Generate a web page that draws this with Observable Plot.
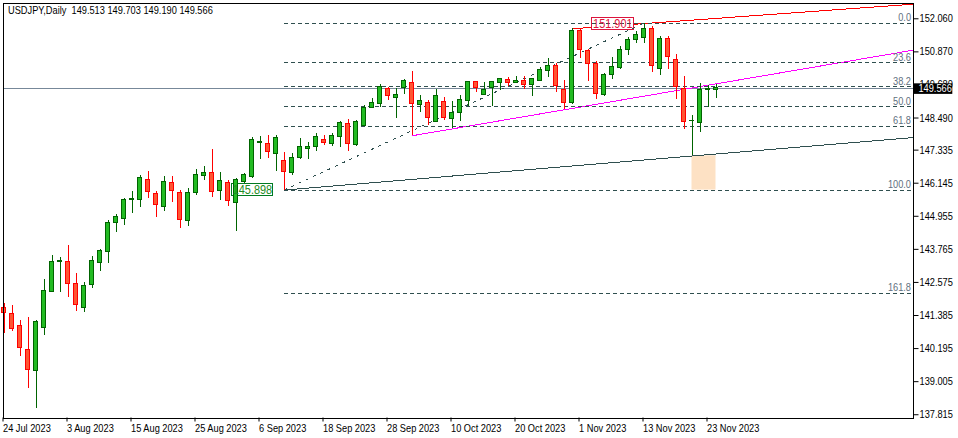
<!DOCTYPE html>
<html><head><meta charset="utf-8">
<style>html,body{margin:0;padding:0;background:#fff}svg{display:block}</style>
<script src="https://cdn.jsdelivr.net/npm/d3@7"></script>
<script src="https://cdn.jsdelivr.net/npm/@observablehq/plot@0.6"></script>
</head><body><div id="c"></div>
<script>
const opens=[141.66,141.45,141.02,140.15,139.40,140.95,142.23,143.32,143.32,142.53,141.66,142.49,143.28,143.68,144.72,144.87,145.55,145.55,146.27,145.77,145.30,146.16,145.80,144.79,145.80,146.41,146.52,145.87,146.16,145.43,146.18,146.38,147.60,147.56,147.20,146.95,146.51,147.05,147.38,147.46,147.71,147.55,147.82,148.28,147.53,148.21,148.86,149.00,149.54,149.22,149.58,149.76,148.95,149.04,148.36,149.07,148.46,148.68,149.11,149.79,149.33,149.58,149.76,149.87,149.76,149.83,149.69,149.83,150.19,150.37,149.51,149.04,151.63,150.91,150.44,149.33,150.05,150.30,150.95,151.30,151.38,151.70,150.26,151.34,150.59,149.54,148.37,148.32,149.50,149.513];
const highs=[141.81,141.75,141.21,141.32,141.21,142.68,143.55,143.47,143.91,142.90,142.57,143.51,143.76,144.81,145.02,145.60,145.85,146.42,146.57,145.84,146.39,146.39,145.88,145.96,146.64,146.75,147.36,146.53,146.24,146.32,146.51,147.78,147.83,147.86,147.86,147.24,147.20,147.74,147.62,147.93,147.85,147.92,148.37,148.43,148.39,148.93,149.18,149.69,149.60,149.54,149.88,150.16,149.30,149.12,149.52,149.22,149.07,149.29,149.80,149.82,149.76,149.82,149.91,149.94,149.98,149.98,149.91,150.30,150.63,150.44,149.84,151.70,151.70,150.95,150.51,150.08,150.67,151.05,151.38,151.59,151.901,151.78,151.41,151.41,150.78,149.98,148.57,149.72,149.66,149.703];
const lows=[140.75,140.82,139.92,138.76,138.05,140.68,142.20,142.23,142.05,141.54,141.51,142.37,142.98,143.27,144.38,144.64,145.07,145.28,145.61,144.92,145.14,145.46,144.53,144.60,145.70,146.24,145.64,145.52,145.31,144.42,146.13,146.33,147.00,147.02,146.58,145.898,146.43,147.00,147.00,147.29,147.51,147.47,147.44,147.29,147.48,148.18,148.82,148.86,149.12,148.48,149.35,147.85,148.70,148.23,148.32,148.41,148.10,148.38,148.92,149.42,149.29,148.92,149.47,149.61,149.72,149.53,149.28,149.79,149.94,149.42,148.79,148.97,150.64,149.82,149.15,149.27,149.89,150.25,150.74,151.18,151.18,150.14,150.03,150.25,149.16,148.09,147.13,147.98,148.86,149.190];
const closes=[141.47,140.90,140.23,139.43,141.16,142.28,143.32,143.33,142.53,141.77,142.46,143.36,143.72,144.72,144.94,145.55,145.56,146.34,145.84,145.37,146.20,145.87,144.83,145.80,146.45,146.52,145.83,146.23,145.51,146.27,146.45,147.71,147.62,147.26,147.78,146.54,147.06,147.46,147.46,147.82,147.59,147.85,148.32,147.56,148.36,148.86,149.04,149.61,149.29,149.33,149.83,149.00,149.11,148.50,149.29,148.50,148.68,149.15,149.79,149.58,149.51,149.79,149.90,149.76,149.83,149.69,149.90,150.23,150.37,149.65,149.04,151.63,150.95,150.44,149.36,150.05,150.33,150.95,151.30,151.48,151.70,150.37,151.34,150.69,149.61,148.36,148.38,149.51,149.52,149.566];

const priceTicks=[152.060,150.870,149.680,148.490,147.335,146.145,144.955,143.765,142.575,141.385,140.195,139.005,137.815];
const dateTickIndex=[0,8,16,24,32,40,48,56,64,72,80,88];
const dateTickLabels=["24 Jul 2023","3 Aug 2023","15 Aug 2023","25 Aug 2023","6 Sep 2023","18 Sep 2023","28 Sep 2023","10 Oct 2023","20 Oct 2023","1 Nov 2023","13 Nov 2023","23 Nov 2023"];
const fibPrices=[151.901,150.484,149.608,148.900,148.193,145.898,142.189];
const fibLabels=["0.0","23.6","38.2","50.0","61.8","100.0","161.8"];
const lastPrice=149.566, swingLow=145.898, swingHigh=151.901;
const IDX_LOW=35, IDX_HIGH=80, XMAX=113.625, XMIN=-0.125;
const zoneX=[86,89], zoneY=[145.898,147.13];
const trendLines=[
  {a:35,pa:145.898,b:XMAX,pb:147.786,c:"#2f4f4f"},
  {a:51,pa:147.851,b:XMAX,pb:150.93,c:"#ff00ff"},
  {a:71,pa:151.70,b:XMAX,pb:152.585,c:"#ff0000"}
];
const candles=d3.range(closes.length).map(i=>({i,o:opens[i],h:highs[i],l:lows[i],c:closes[i],up:closes[i]>=opens[i]}));
const FONT='"Liberation Sans",sans-serif';
const UP="#006400",DN="#ff0000",UPF="#22bb22",DNF="#ff5533";
const fibRows=fibPrices.map((p,i)=>({p,t:fibLabels[i]}));

const chart=Plot.plot({
  width:958,height:438,marginLeft:2.5,marginRight:45.5,marginTop:2.5,marginBottom:20.5,
  style:{background:"#fff",fontFamily:FONT,fontSize:"11px",color:"#000"},
  x:{type:"linear",domain:[XMIN,XMAX]},
  y:{domain:[137.698,152.628]},
  marks:[
    Plot.rect([0],{x1:zoneX[0],x2:zoneX[1],y1:zoneY[0],y2:zoneY[1],fill:"#fde1c4"}),
    Plot.ruleY([lastPrice],{stroke:"#778899",strokeWidth:1,shapeRendering:"crispEdges"}),
    Plot.link(trendLines,{x1:"a",y1:"pa",x2:"b",y2:"pb",stroke:"c",strokeWidth:1,shapeRendering:"crispEdges"}),
    Plot.rect([0],{x1:28.5,x2:33.65,y1:145.70,y2:146.13,fill:"#fff",stroke:"#007a20",shapeRendering:"crispEdges"}),
    Plot.rect([0],{x1:73.5,x2:78.75,y1:151.67,y2:152.10,fill:"#fff",stroke:"#dc143c",shapeRendering:"crispEdges"}),
    Plot.ruleY(fibRows,{y:"p",x1:IDX_LOW,x2:XMAX,stroke:"#2f4f4f",strokeDasharray:"4,3",shapeRendering:"crispEdges"}),
    Plot.link([0],{x1:IDX_LOW,y1:swingLow,x2:IDX_HIGH,y2:swingHigh,stroke:"#2f4f4f",strokeDasharray:"3,5",shapeRendering:"crispEdges"}),
    Plot.ruleX(candles,{x:"i",y1:"l",y2:"h",stroke:d=>d.up?UP:DN,strokeWidth:1,shapeRendering:"crispEdges"}),
    Plot.rect(candles,{x1:d=>d.i-0.25,x2:d=>d.i+0.25,y1:"o",y2:"c",fill:d=>d.up?UPF:DNF,stroke:d=>d.up?UP:DN,strokeWidth:1,shapeRendering:"crispEdges"}),
    Plot.text([swingLow],{x:31.05,y:145.915,text:d=>d.toFixed(3),fill:"#228b22",fontSize:13,textAnchor:"middle"}),
    Plot.text([swingHigh],{x:76.1,y:151.885,text:d=>d.toFixed(3),fill:"#dc143c",fontSize:13,textAnchor:"middle"}),
    Plot.text(fibRows,{y:"p",text:"t",frameAnchor:"right",dx:-2,dy:-5.5,textAnchor:"end",fill:"#5f7080",fontSize:11}),
    Plot.axisY({anchor:"right",ticks:priceTicks,tickFormat:d=>d.toFixed(3),tickSize:5,tickPadding:1.5,label:null,fontSize:11,stroke:"#000"}),
    Plot.axisX({anchor:"bottom",ticks:dateTickIndex,tickFormat:d=>dateTickLabels[dateTickIndex.indexOf(d)],tickSize:4,tickPadding:2,label:null,fontSize:11,textAnchor:"start",dx:-1,stroke:"#000"}),
    Plot.rect([0],{x1:113.8,x2:118.6,y1:149.34,y2:149.72,fill:"#000"}),
    Plot.text([lastPrice],{x:114.3,y:lastPrice,text:d=>d.toFixed(3),fill:"#fff",fontSize:11,textAnchor:"start"}),
    Plot.frame({stroke:"#000",strokeWidth:1,shapeRendering:"crispEdges"}),
    Plot.text(["USDJPY,Daily  149.513 149.703 149.190 149.566"],{frameAnchor:"top-left",dx:5,dy:3,fontSize:11,fill:"#000",textAnchor:"start",lineAnchor:"top"})
  ]
});
document.getElementById("c").appendChild(chart);
// Tahoma-like narrower set: condense the glyphs of every real text element
chart.querySelectorAll("text").forEach(t=>{
  const targets=t.querySelectorAll("tspan").length?[...t.querySelectorAll("tspan")]:[t];
  targets.forEach(el=>{
    const len=el.getComputedTextLength();
    if(len>0){el.setAttribute("textLength",(len*0.84).toFixed(1));el.setAttribute("lengthAdjust","spacingAndGlyphs");}
  });
});
</script></body></html>
